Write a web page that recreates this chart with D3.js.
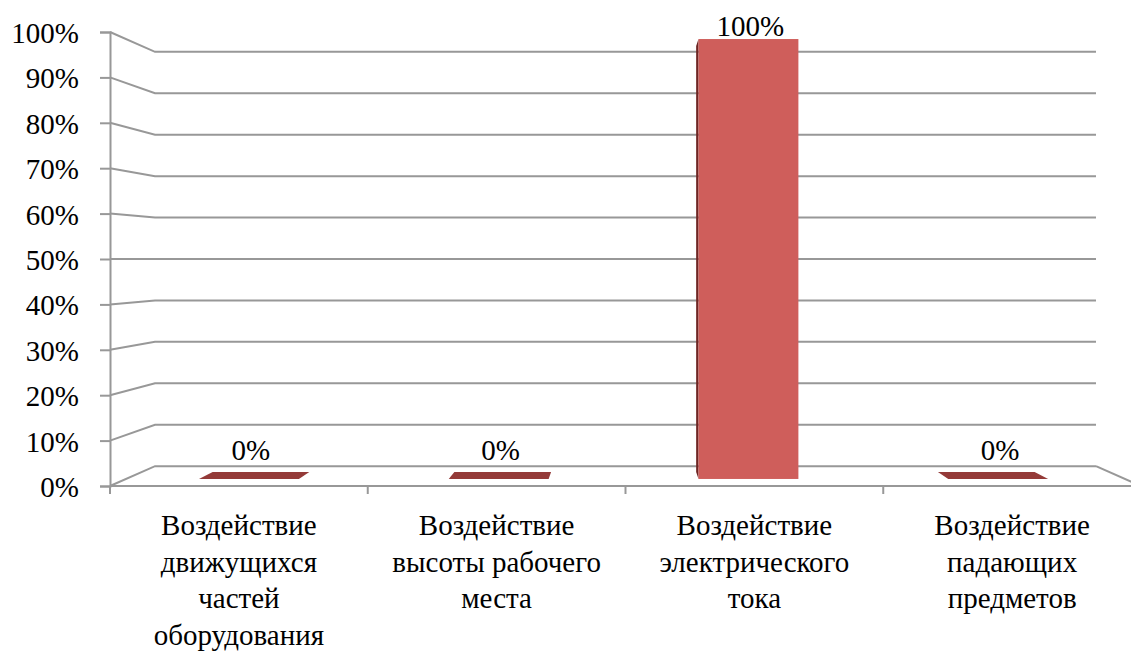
<!DOCTYPE html>
<html>
<head>
<meta charset="utf-8">
<script src="https://cdn.jsdelivr.net/npm/d3@7"></script>
<style>
  body { margin: 0; background: #fff; }
</style>
</head>
<body>
<div id="chart"></div>
<script>
// data
var categories = ["Воздействие движущихся частей оборудования", "Воздействие высоты рабочего места", "Воздействие электрического тока", "Воздействие падающих предметов"];
var categoryLines = [
	["Воздействие", "движущихся", "частей", "оборудования"],
	["Воздействие", "высоты рабочего", "места"],
	["Воздействие", "электрического", "тока"],
	["Воздействие", "падающих", "предметов"]
];
var values = [0, 0, 1, 0];
var tickValues = [0, 0.1, 0.2, 0.3, 0.4, 0.5, 0.6, 0.7, 0.8, 0.9, 1];

var width = 1131, height = 651;
var serif = "'Liberation Serif', 'DejaVu Serif', 'Noto Serif', serif";

var svg = d3.select("div#chart")
	.append("svg")
	.attr("width", width)
	.attr("height", height);

// front plane scales
var x = d3.scaleBand()
	.domain(categories)
	.range([110, 1141])
	.padding(0);

var y = d3.scaleLinear()
	.domain([0, 1])
	.range([486, 32]);

// perspective: everything shrinks toward a vanishing point
var vp = {x: 625.5, y: 259};
var sBack = 0.9127;       // scale of back wall
var sBarFront = 0.969, sBarBack = 0.938;
function project(X, Y, s) {
	return [vp.x + (X - vp.x) * s, vp.y + (Y - vp.y) * s];
}
var line = d3.line();
var grid = "#989898";

// gridlines: short slant on the side wall, then along the back wall
var xl = x.range()[0], xr = x.range()[1];
tickValues.forEach(function(v) {
	var f = [xl, y(v)];
	var b = project(xl, y(v), sBack);
	var br = project(xr, y(v), sBack);
	svg.append("path")
		.attr("d", line([f, b, br]))
		.attr("fill", "none")
		.attr("stroke", grid)
		.attr("stroke-width", 2);
});

// floor front edge and right side
var fr = project(xr, y(0), sBack);
svg.append("path")
	.attr("d", line([[xl, y(0)], [xr, y(0)]]))
	.attr("fill", "none").attr("stroke", grid).attr("stroke-width", 2);
svg.append("path")
	.attr("d", line([fr, [xr, y(0)]]))
	.attr("fill", "none").attr("stroke", grid).attr("stroke-width", 2);

// vertical axis with ticks
var yAxis = svg.append("g")
	.attr("transform", "translate(" + xl + ",0)")
	.call(d3.axisLeft(y).tickValues(tickValues).tickSize(10).tickPadding(21).tickFormat(d3.format(".0%")));
yAxis.attr("font-family", null).attr("font-size", null);
yAxis.select(".domain").attr("stroke", grid).attr("stroke-width", 2);
yAxis.selectAll(".tick line").attr("stroke", grid).attr("stroke-width", 2);
yAxis.selectAll(".tick text")
	.style("font-family", serif)
	.style("font-size", "29px")
	.attr("fill", "#000")
	.attr("dy", "0.36em");

// category tick marks along the floor
d3.range(categories.length + 1).forEach(function(i) {
	var tx = xl + i * x.step();
	svg.append("line")
		.attr("x1", tx).attr("x2", tx)
		.attr("y1", y(0)).attr("y2", y(0) + 8)
		.attr("stroke", grid).attr("stroke-width", 2);
});

// bars
var barW = x.bandwidth() * 0.4;
values.forEach(function(v, i) {
	var x0 = x(categories[i]) + (x.bandwidth() - barW) / 2 - 2;
	var x1 = x0 + barW;
	var yt = y(v), yb = y(0);
	// top face
	var top = [project(x0, yt, sBarFront), project(x1, yt, sBarFront), project(x1, yt, sBarBack), project(x0, yt, sBarBack)];
	if (v > 0) {
		// left side face
		svg.append("path")
			.attr("d", line([project(x0, yt, sBarBack), project(x0, yt, sBarFront), project(x0, yb, sBarFront), project(x0, yb, sBarBack)]) + "Z")
			.attr("fill", "#6e2523");
		// front face
		var p0 = project(x0, yt, sBarFront), p1 = project(x1, yb, sBarFront);
		svg.append("rect")
			.attr("x", p0[0]).attr("y", p0[1])
			.attr("width", p1[0] - p0[0]).attr("height", p1[1] - p0[1])
			.attr("fill", "#cf5e5b");
	} else {
		svg.append("path")
			.attr("d", line(top) + "Z")
			.attr("fill", "#943a38");
	}
	// value label
	var c = project(x0 + barW / 2, yt, sBarFront);
	svg.append("text")
		.attr("x", c[0] + 2)
		.attr("y", Math.max(c[1] - 19, 36))
		.attr("text-anchor", "middle")
		.style("font-family", serif)
		.style("font-size", "29px")
		.text(d3.format(".0%")(v));
});

// category labels
categories.forEach(function(cat, i) {
	var t = svg.append("text")
		.attr("text-anchor", "middle")
		.style("font-family", serif)
		.style("font-size", "29px");
	categoryLines[i].forEach(function(s, j) {
		t.append("tspan")
			.attr("x", x(cat) + x.bandwidth() / 2)
			.attr("y", 535 + j * 36.5)
			.text(s);
	});
});
</script>
</body>
</html>
